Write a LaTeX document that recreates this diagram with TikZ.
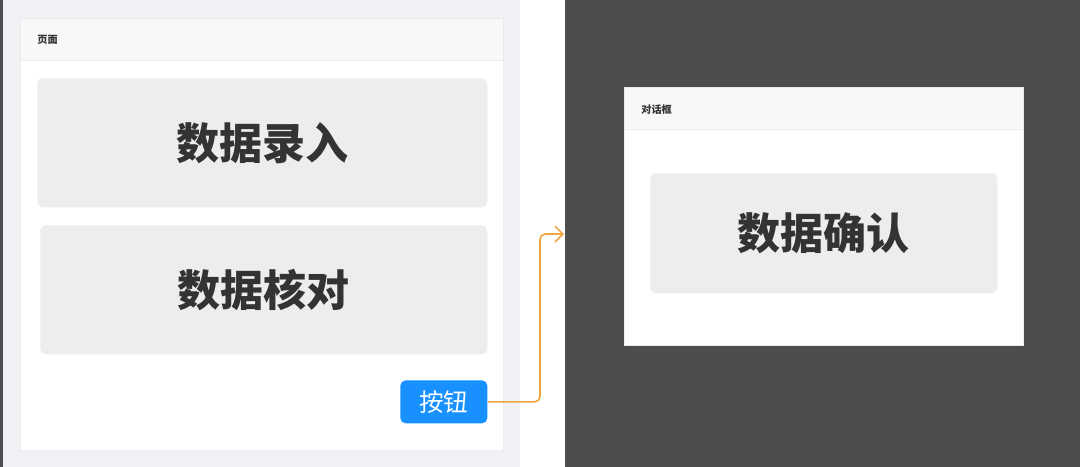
\documentclass[tikz,border=0pt]{standalone}
\usepackage{fontspec}
\newfontfamily\cjk{Noto Sans CJK SC}
\usetikzlibrary{arrows.meta}
\definecolor{pagebg}{HTML}{F0F1F5}
\definecolor{darkbg}{HTML}{4D4D4D}
\definecolor{headbg}{HTML}{F8F8F8}
\definecolor{boxbg}{HTML}{EDEDED}
\definecolor{textdark}{HTML}{333333}
\definecolor{btnblue}{HTML}{1890FF}
\definecolor{flowline}{HTML}{F0A43C}
\begin{document}
\begin{tikzpicture}[x=0.02cm, y=-0.02cm, font=\cjk]
    % Define styles
    \tikzstyle{panel} = [rectangle, draw=gray!15, fill=white, anchor=north west, inner sep=0pt]
    \tikzstyle{header} = [rectangle, draw=gray!15, fill=headbg, anchor=north west, inner sep=0pt, minimum height=0.84cm]
    \tikzstyle{headlabel} = [anchor=west, inner sep=0pt, text=textdark, font=\cjk\bfseries\fontsize{5.8}{6}\selectfont]
    \tikzstyle{block} = [rectangle, fill=boxbg, rounded corners=3pt, anchor=north west, inner sep=0pt, text=textdark, font=\cjk\bfseries\fontsize{24.5}{28}\selectfont]
    \tikzstyle{button} = [rectangle, fill=btnblue, rounded corners=3pt, anchor=north west, inner sep=0pt, text=white, font=\cjk\fontsize{14}{16}\selectfont]
    \tikzstyle{line} = [draw=flowline, line width=0.9pt, rounded corners=3pt, -{Straight Barb[length=4.5pt]}]

    % Backgrounds
    \useasboundingbox (0,0) rectangle (1080,467);
    \fill[pagebg] (0,0) rectangle (520,467);
    \fill[darkbg] (0,0) rectangle (3,467);
    \fill[white] (520,0) rectangle (565,467);
    \fill[darkbg] (565,0) rectangle (1080,467);

    % Place nodes - page
    \node [panel, minimum width=9.66cm, minimum height=8.64cm] (page) at (20,18) {};
    \node [header, minimum width=9.66cm] (pagehead) at (20,18) {};
    \node [headlabel] (pagetitle) at (37,40) {页面};
    \node [block, minimum width=9.0cm, minimum height=2.58cm] (entry) at (37,78) {数据录入};
    \node [block, minimum width=8.94cm, minimum height=2.58cm] (check) at (40,225) {数据核对};
    \node [button, minimum width=1.74cm, minimum height=0.86cm] (btn) at (400,380) {按钮};

    % Place nodes - dialog
    \node [panel, minimum width=7.98cm, minimum height=5.16cm] (dialog) at (624,87) {};
    \node [header, minimum width=7.98cm] (dialoghead) at (624,87) {};
    \node [headlabel] (dialogtitle) at (641,110) {对话框};
    \node [block, minimum width=6.94cm, minimum height=2.4cm] (confirm) at (650,173) {数据确认};

    % Draw edges
    \coordinate (turn) at (540,234);
    \coordinate (target) at (564,234);
    \path [line] (btn.east) -| (turn) -- (target);

\end{tikzpicture}
\end{document}
